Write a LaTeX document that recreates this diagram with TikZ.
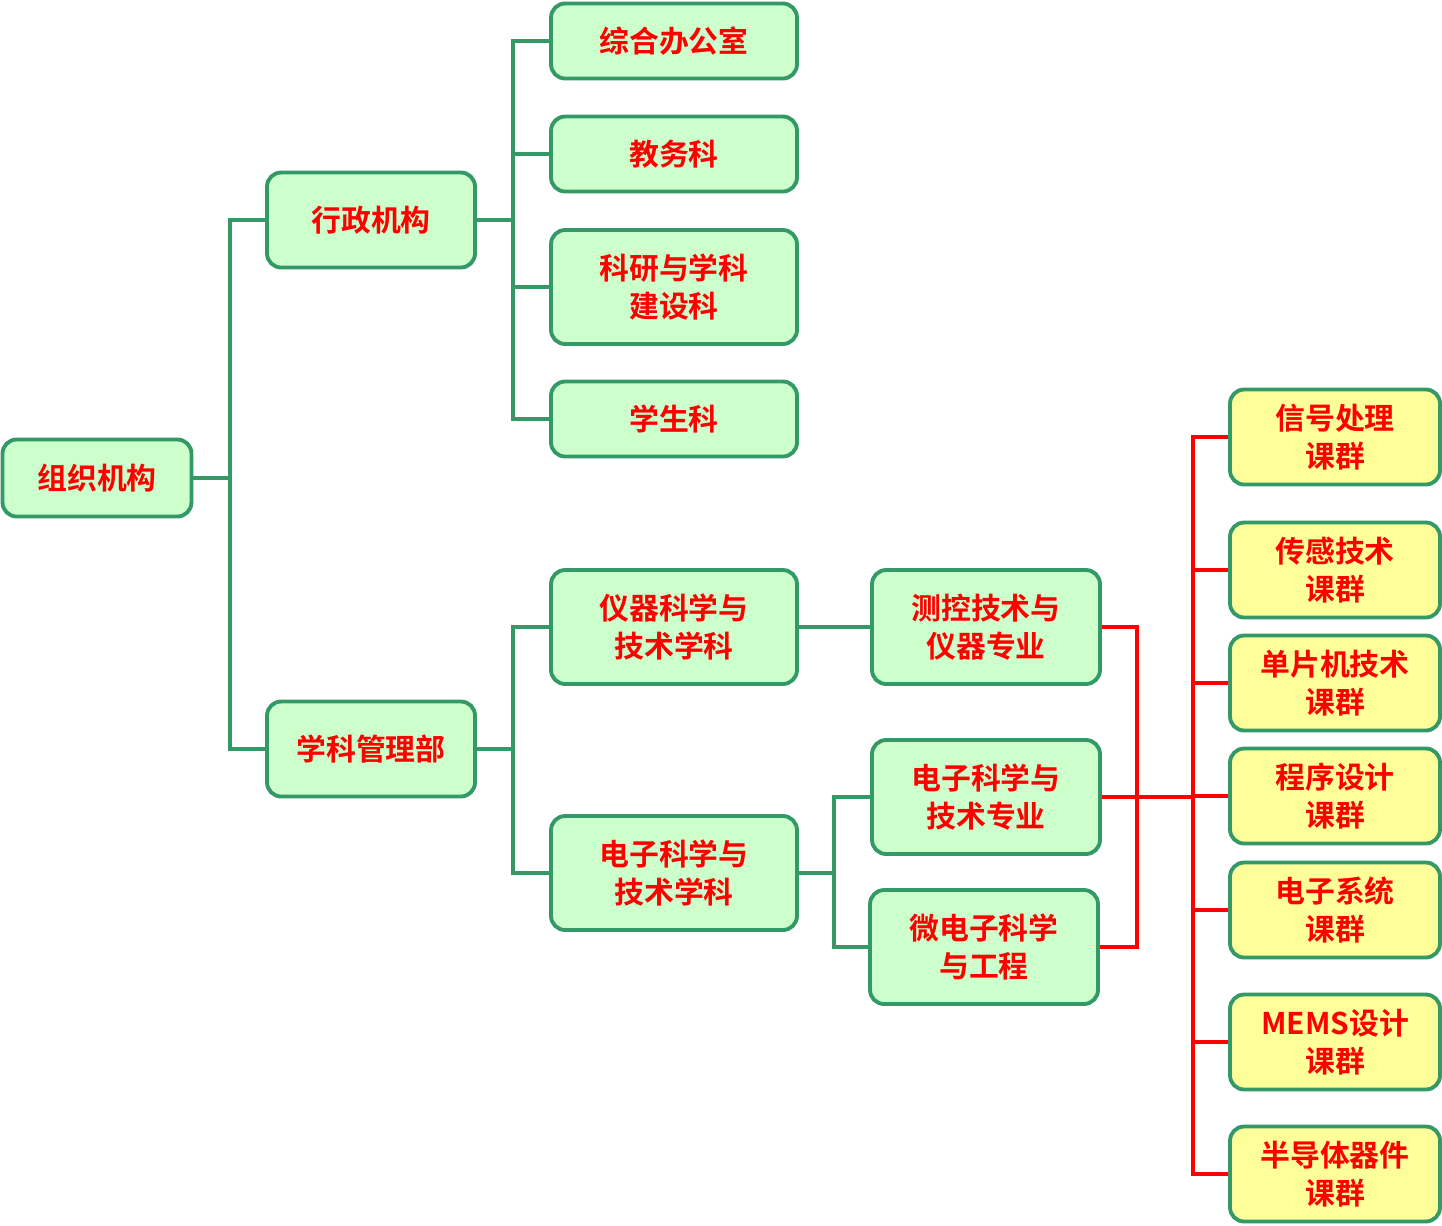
\documentclass[tikz,border=0pt]{standalone}
\usepackage{fontspec}
\setmainfont{Noto Sans CJK SC}[BoldFont={Noto Sans CJK SC Bold}]
\usetikzlibrary{calc}
\definecolor{boxgreen}{HTML}{CCFFCC}
\definecolor{linegreen}{HTML}{339966}
\definecolor{boxyellow}{HTML}{FFFF99}
\tikzset{%
    box/.style={rectangle, rounded corners=8pt, draw=linegreen, line width=2.2pt, fill=boxgreen,
        text=red, font=\bfseries\fontsize{17}{21.5}\selectfont, align=center, inner sep=0pt},
    ybox/.style={box, fill=boxyellow},
    gl/.style={draw=linegreen, line width=2.2pt},
    rl/.style={draw=red, line width=2.2pt},
}
\begin{document}
\begin{tikzpicture}[x=0.02cm, y=-0.02cm]
    \useasboundingbox (0,0) rectangle (1442,1225);
    % level 0 and 1
    \node [box, minimum width=3.78cm, minimum height=1.54cm] (root) at (97,478) {组织机构};
    \node [box, minimum width=4.16cm, minimum height=1.9cm] (xz) at (371,220) {行政机构};
    \node [box, minimum width=4.16cm, minimum height=1.9cm] (xk) at (371,749) {学科管理部};
    % level 2
    \node [box, minimum width=4.92cm, minimum height=1.5cm] (zh) at (674,41) {综合办公室};
    \node [box, minimum width=4.92cm, minimum height=1.5cm] (jw) at (674,154) {教务科};
    \node [box, minimum width=4.92cm, minimum height=2.28cm] (ky) at (674,287) {科研与学科\\建设科};
    \node [box, minimum width=4.92cm, minimum height=1.5cm] (xs) at (674,419) {学生科};
    \node [box, minimum width=4.92cm, minimum height=2.28cm] (yq) at (674,627) {仪器科学与\\技术学科};
    \node [box, minimum width=4.92cm, minimum height=2.28cm] (dz) at (674,873) {电子科学与\\技术学科};
    % level 3
    \node [box, minimum width=4.56cm, minimum height=2.28cm] (ck) at (986,627) {测控技术与\\仪器专业};
    \node [box, minimum width=4.56cm, minimum height=2.28cm] (dzzy) at (986,797) {电子科学与\\技术专业};
    \node [box, minimum width=4.56cm, minimum height=2.28cm] (wdz) at (984,947) {微电子科学\\与工程};
    % level 4
    \foreach \n/\y/\t in {k1/437/信号处理, k2/570/传感技术, k3/683/单片机技术, k4/796/程序设计,
        k5/910/电子系统, k6/1042/MEMS设计, k7/1174/半导体器件}
        \node [ybox, minimum width=4.2cm, minimum height=1.9cm] (\n) at (1335,\y) {\t\\课群};
    % green connectors
    \coordinate (b0) at (230,478);
    \coordinate (b1) at (513,220);
    \coordinate (b2) at (513,749);
    \coordinate (b3) at (834,873);
    \draw [gl] (root) -- (b0) (b0) |- (xz.west) (b0) |- (xk.west);
    \draw [gl] (xz) -- (b1);
    \foreach \n in {zh,jw,ky,xs} \draw [gl] (b1) |- (\n.west);
    \draw [gl] (xk) -- (b2) (b2) |- (yq.west) (b2) |- (dz.west);
    \draw [gl] (yq) -- (ck);
    \draw [gl] (dz) -- (b3) (b3) |- (dzzy.west) (b3) |- (wdz.west);
    % red connectors
    \coordinate (r1) at (1137,797);
    \coordinate (r2) at (1193,797);
    \draw [rl] (ck.east) -| (r1) (wdz.east) -| (r1) (dzzy.east) -- (r2);
    \foreach \n in {k1,k2,k3,k4,k5,k6,k7} \draw [rl] (r2) |- (\n.west);
\end{tikzpicture}
\end{document}
